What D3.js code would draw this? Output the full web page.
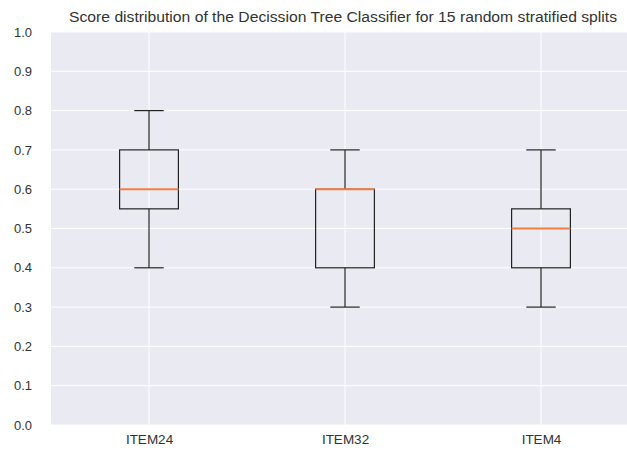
<!DOCTYPE html>
<html>
<head>
<meta charset="utf-8">
<script src="https://cdn.jsdelivr.net/npm/d3@7"></script>
<style>
  body { margin: 0; background: #fff; }
  svg { display: block; font-family: "Liberation Sans", Arial, sans-serif; }
</style>
</head>
<body>
<svg id="chart"></svg>
<script>
// box stats
var items = ["ITEM24", "ITEM32", "ITEM4"];
var whislo = [0.4, 0.3, 0.3];
var q1 = [0.55, 0.4, 0.4];
var med = [0.6, 0.6, 0.5];
var q3 = [0.7, 0.6, 0.55];
var whishi = [0.8, 0.7, 0.7];
var yTicks = [0, 0.1, 0.2, 0.3, 0.4, 0.5, 0.6, 0.7, 0.8, 0.9, 1.0];
var title = "Score distribution of the Decission Tree Classifier for 15 random stratified splits";

var W = 627, H = 452;
var margin = {top: 32, left: 51};
var plotW = 588, plotH = 393;

var svg = d3.select("#chart").attr("width", W).attr("height", H);

var x = d3.scaleLinear().domain([0.5, 3.5]).range([margin.left, margin.left + plotW]);
var y = d3.scaleLinear().domain([0, 1]).range([margin.top + plotH, margin.top]);

svg.append("rect")
    .attr("x", margin.left).attr("y", margin.top)
    .attr("width", plotW).attr("height", plotH)
    .attr("fill", "#eaeaf2");

// grid
svg.append("g").selectAll("line").data(yTicks).enter().append("line")
    .attr("x1", margin.left).attr("x2", margin.left + plotW)
    .attr("y1", function(d) { return y(d); }).attr("y2", function(d) { return y(d); })
    .attr("stroke", "#fff").attr("stroke-width", 1);
svg.append("g").selectAll("line").data(items).enter().append("line")
    .attr("x1", function(d, i) { return x(i + 1); }).attr("x2", function(d, i) { return x(i + 1); })
    .attr("y1", margin.top).attr("y2", margin.top + plotH)
    .attr("stroke", "#fff").attr("stroke-width", 1);

// axes (labels only, seaborn style)
var yAxis = svg.append("g")
    .attr("transform", "translate(" + (margin.left - 16) + ",0)")
    .call(d3.axisLeft(y).tickValues(yTicks).tickFormat(d3.format(".1f")).tickSize(0));
yAxis.select(".domain").remove();
yAxis.selectAll("text").attr("fill", "#333").style("font-size", "13px");

var xAxis = svg.append("g")
    .attr("transform", "translate(0," + (margin.top + plotH + 6) + ")")
    .call(d3.axisBottom(x).tickValues([1, 2, 3]).tickFormat(function(d) { return items[d - 1]; }).tickSize(0));
xAxis.select(".domain").remove();
xAxis.selectAll("text").attr("fill", "#333").style("font-size", "13.5px");

// boxes
var bw = x(1.3) - x(1);
var cw = bw / 2;
var boxes = svg.append("g").selectAll("g").data(items).enter().append("g");
boxes.append("line")
    .attr("x1", function(d, i) { return x(i + 1); }).attr("x2", function(d, i) { return x(i + 1); })
    .attr("y1", function(d, i) { return y(whislo[i]); }).attr("y2", function(d, i) { return y(q1[i]); })
    .attr("stroke", "#222").attr("stroke-width", 1.2);
boxes.append("line")
    .attr("x1", function(d, i) { return x(i + 1); }).attr("x2", function(d, i) { return x(i + 1); })
    .attr("y1", function(d, i) { return y(q3[i]); }).attr("y2", function(d, i) { return y(whishi[i]); })
    .attr("stroke", "#222").attr("stroke-width", 1.2);
boxes.append("line")
    .attr("x1", function(d, i) { return x(i + 1) - cw / 2; }).attr("x2", function(d, i) { return x(i + 1) + cw / 2; })
    .attr("y1", function(d, i) { return y(whislo[i]); }).attr("y2", function(d, i) { return y(whislo[i]); })
    .attr("stroke", "#222").attr("stroke-width", 1.2);
boxes.append("line")
    .attr("x1", function(d, i) { return x(i + 1) - cw / 2; }).attr("x2", function(d, i) { return x(i + 1) + cw / 2; })
    .attr("y1", function(d, i) { return y(whishi[i]); }).attr("y2", function(d, i) { return y(whishi[i]); })
    .attr("stroke", "#222").attr("stroke-width", 1.2);
boxes.append("rect")
    .attr("x", function(d, i) { return x(i + 1) - bw / 2; })
    .attr("y", function(d, i) { return y(q3[i]); })
    .attr("width", bw)
    .attr("height", function(d, i) { return y(q1[i]) - y(q3[i]); })
    .attr("fill", "none").attr("stroke", "#222").attr("stroke-width", 1.2);
boxes.append("line")
    .attr("x1", function(d, i) { return x(i + 1) - bw / 2; }).attr("x2", function(d, i) { return x(i + 1) + bw / 2; })
    .attr("y1", function(d, i) { return y(med[i]); }).attr("y2", function(d, i) { return y(med[i]); })
    .attr("stroke", "#ee8044").attr("stroke-width", 2);

svg.append("text")
    .attr("x", 343).attr("y", 22)
    .attr("text-anchor", "middle")
    .attr("fill", "#333")
    .attr("textLength", 548)
    .attr("lengthAdjust", "spacingAndGlyphs")
    .style("font-size", "14px")
    .text(title);
</script>
</body>
</html>
